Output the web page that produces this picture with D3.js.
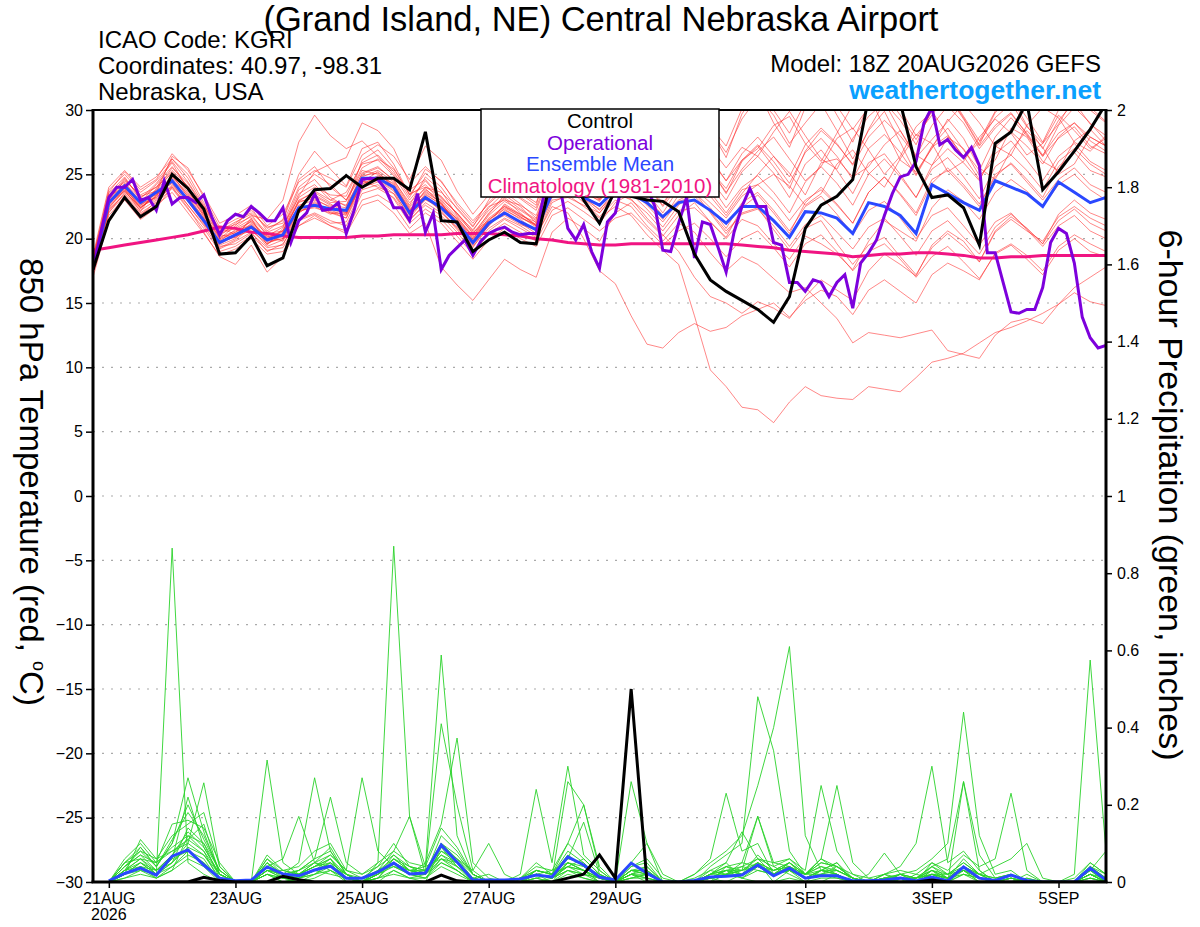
<!DOCTYPE html>
<html>
<head>
	<meta charset="utf-8">
	<title>GEFS meteogram - KGRI</title>
	<script src="https://d3js.org/d3.v7.min.js"></script>
	<style type="text/css">
		body { margin: 0; background: #fff; }
		svg { display: block; font-family: "Liberation Sans", Arial, Helvetica, sans-serif; }
		.member-t { fill: none; stroke: #ff2a2a; stroke-width: 0.8; stroke-opacity: 0.7; }
		.member-p { fill: none; stroke: #2ad22a; stroke-width: 0.9; }
		.thick { fill: none; stroke-width: 3; }
		.grid line { stroke: #aaa; stroke-width: 1.2; stroke-dasharray: 2,7; }
		.axis text { font-size: 16px; fill: #000; }
		.axis line { stroke: #000; stroke-width: 1.5; }
	</style>
</head>
<body>
<div id="chart"></div>
<script>
	// ---------- data (6-hourly from 18Z 20AUG2026, operational 3-hourly) ----------
	var tempTicks = [30, 25, 20, 15, 10, 5, 0, -5, -10, -15, -20, -25, -30];
	var precipTicks = [2, 1.8, 1.6, 1.4, 1.2, 1, 0.8, 0.6, 0.4, 0.2, 0];
	var tickDates = ["2026-08-21", "2026-08-23", "2026-08-25", "2026-08-27", "2026-08-29", "2026-09-01", "2026-09-03", "2026-09-05"];
	var dateLabels = ["21AUG", "23AUG", "25AUG", "27AUG", "29AUG", "1SEP", "3SEP", "5SEP"];
	var legendItems = ["Control", "Operational", "Ensemble Mean", "Climatology (1981-2010)"];

	var controlTemp = [17.6, 21.4, 23.2, 21.7, 22.5, 25.0, 23.9, 22.3, 18.8, 18.9, 20.2, 17.9, 18.5, 22.2, 23.8, 23.9,
		24.9, 24.0, 24.7, 24.7, 23.8, 28.3, 21.4, 21.3, 19.0, 19.9, 20.5, 19.7, 19.6, 25.0, 25.2, 23.0,
		21.2, 23.8, 23.3, 23.0, 22.9, 22.1, 18.8, 16.8, 15.9, 15.2, 14.5, 13.5, 15.5, 20.8, 22.6, 23.3,
		24.6, 31.0, 33.0, 30.6, 25.6, 23.2, 23.4, 22.4, 19.5, 27.4, 28.3, 30.6, 23.8, 25.2, 26.8, 28.5, 30.5];

	var meanTemp = [17.7, 22.8, 24.1, 22.8, 23.6, 24.5, 23.0, 21.4, 19.7, 20.3, 20.9, 19.9, 20.3, 22.4, 22.6, 22.3,
		22.2, 24.7, 24.7, 24.0, 22.0, 23.2, 22.4, 21.2, 19.7, 21.2, 22.0, 21.3, 20.7, 23.5, 23.8, 23.2,
		22.6, 23.8, 23.5, 22.8, 21.7, 22.8, 23.0, 22.2, 21.2, 22.5, 22.5, 21.4, 20.1, 22.1, 22.0, 21.6,
		20.4, 22.8, 22.5, 21.8, 20.4, 24.2, 23.5, 22.8, 22.2, 24.5, 24.0, 23.5, 22.5, 24.4, 23.6, 22.8, 23.2];

	var climoTemp = [19.1, 19.3, 19.5, 19.7, 19.9, 20.1, 20.3, 20.6, 20.9, 20.8, 20.5, 20.4, 20.2, 20.1, 20.1, 20.1,
		20.1, 20.2, 20.2, 20.3, 20.3, 20.3, 20.3, 20.4, 20.4, 20.4, 20.3, 20.2, 20.0, 19.9, 19.7, 19.6,
		19.5, 19.5, 19.6, 19.6, 19.6, 19.6, 19.6, 19.6, 19.6, 19.5, 19.4, 19.3, 19.1, 19.0, 18.9, 18.8,
		18.6, 18.7, 18.8, 18.8, 18.9, 18.9, 18.8, 18.7, 18.5, 18.5, 18.6, 18.6, 18.7, 18.7, 18.7, 18.7, 18.7];

	var operationalTemp = [17.6, 20.5, 23.2, 24.0, 24.0, 24.6, 23.0, 23.2, 22.2, 24.5, 22.7, 23.2, 23.2, 22.8, 23.4, 21.7,
		20.3, 21.4, 21.9, 21.7, 22.5, 22.0, 21.4, 21.4, 22.4, 19.7, 21.4, 22.0, 23.5, 22.2, 22.3, 22.8,
		20.4, 22.2, 24.6, 24.7, 24.6, 23.8, 22.4, 22.4, 21.4, 23.5, 20.5, 22.0, 17.6, 18.7, 19.3, 19.9,
		18.7, 19.8, 20.4, 20.7, 20.9, 20.5, 20.3, 20.4, 20.4, 23.5, 26.0, 24.0, 20.8, 19.9, 21.1, 19.0,
		17.7, 21.3, 22.0, 24.5, 26.0, 25.0, 24.0, 22.5, 19.1, 19.0, 21.2, 23.2, 18.5, 21.3, 21.1, 19.3,
		17.4, 20.5, 22.5, 23.9, 22.5, 22.5, 19.7, 19.5, 16.6, 16.6, 15.9, 16.8, 16.6, 15.5, 16.6, 17.2,
		14.6, 18.1, 18.9, 19.9, 21.8, 23.5, 24.8, 25.0, 26.0, 29.0, 30.2, 27.3, 27.7, 26.9, 26.3, 27.1,
		25.7, 18.9, 18.9, 16.6, 14.3, 14.2, 14.5, 14.5, 16.2, 19.7, 20.8, 20.4, 18.1, 13.9, 12.3, 11.5, 11.7];

	var tempMembers = [
		[18.2, 23.1, 24.5, 23.4, 24.0, 25.3, 24.1, 22.0, 20.3, 20.1, 21.6, 19.5, 20.8, 23.5, 24.2, 23.0, 23.6, 25.8, 26.1, 24.9, 23.0, 24.5, 23.1, 22.0, 20.4, 21.9, 23.4, 22.5, 21.2, 24.8, 25.5, 24.0, 23.1, 25.2, 26.0, 24.3, 22.5, 24.1, 25.0, 23.6, 22.0, 23.8, 24.2, 25.0, 24.1, 22.6, 23.5, 25.8, 26.9, 25.1, 24.0, 26.2, 28.1, 27.4, 25.2, 26.0, 27.9, 29.3, 28.2, 26.5, 27.4, 29.6, 28.4, 27.0, 27.8],
		[17.9, 22.5, 23.8, 22.1, 23.9, 26.2, 25.0, 22.8, 20.0, 21.0, 22.4, 20.6, 21.5, 25.0, 26.8, 25.4, 24.1, 27.0, 27.5, 25.8, 23.4, 25.1, 24.0, 22.3, 20.9, 23.0, 24.8, 23.5, 22.6, 26.8, 28.5, 27.0, 25.2, 28.1, 29.5, 27.6, 25.8, 28.9, 30.8, 28.5, 26.3, 29.7, 31.5, 29.0, 27.1, 30.2, 31.8, 29.6, 27.5, 30.5, 32.0, 30.1, 28.0, 29.6, 31.2, 29.4, 27.3, 29.8, 31.0, 28.8, 27.0, 29.2, 30.6, 28.9, 28.0],
		[17.5, 22.0, 23.6, 22.5, 23.1, 24.0, 22.6, 21.0, 19.2, 19.8, 20.5, 19.0, 19.6, 21.5, 22.0, 21.4, 21.0, 23.5, 23.9, 23.2, 21.5, 22.6, 21.8, 20.5, 19.0, 20.6, 21.5, 20.8, 20.1, 22.8, 23.4, 22.5, 21.6, 22.5, 21.8, 20.3, 19.1, 18.0, 14.0, 9.8, 8.5, 6.9, 6.7, 5.7, 7.3, 8.5, 7.8, 7.6, 7.5, 8.5, 8.3, 8.1, 9.2, 10.4, 10.7, 11.1, 11.9, 12.7, 13.1, 13.6, 14.2, 14.9, 16.2, 17.0, 17.8],
		[18.0, 23.5, 24.8, 23.0, 23.4, 24.8, 23.5, 21.9, 20.1, 20.6, 21.0, 20.2, 19.8, 22.0, 22.8, 22.1, 21.6, 24.0, 24.4, 23.5, 21.4, 22.8, 22.0, 20.9, 19.4, 20.8, 21.6, 21.0, 20.2, 22.5, 22.0, 20.0, 17.5, 16.5, 14.0, 11.8, 11.5, 12.7, 13.4, 12.8, 13.1, 14.0, 14.5, 15.0, 13.9, 15.2, 16.0, 15.5, 14.1, 16.0, 16.8, 15.9, 15.0, 17.2, 18.1, 17.5, 16.8, 18.9, 19.6, 18.7, 17.5, 19.4, 20.3, 19.6, 19.0],
		[17.6, 22.9, 24.2, 22.7, 23.2, 24.6, 22.9, 21.2, 19.5, 20.0, 21.2, 19.8, 20.0, 22.6, 23.0, 22.5, 21.9, 24.4, 24.6, 23.8, 21.9, 23.5, 22.6, 21.4, 20.0, 21.5, 22.3, 21.5, 20.6, 23.2, 23.9, 22.8, 21.7, 23.0, 22.5, 21.0, 19.8, 21.2, 20.5, 18.9, 17.5, 18.6, 18.0, 16.9, 15.8, 16.2, 15.0, 13.8, 11.9, 12.7, 12.5, 12.3, 12.6, 12.9, 11.3, 11.0, 10.7, 12.5, 13.5, 13.8, 13.4, 14.9, 15.8, 15.1, 14.8],
		[18.1, 22.7, 23.9, 22.4, 23.3, 24.9, 23.4, 21.8, 19.9, 20.5, 21.4, 20.0, 20.5, 22.9, 23.1, 22.4, 22.0, 24.6, 24.8, 24.1, 22.2, 23.7, 22.8, 21.1, 19.8, 21.4, 22.5, 21.7, 20.9, 23.8, 24.4, 23.1, 22.0, 23.4, 23.1, 21.6, 20.3, 19.0, 17.0, 15.5, 15.0, 14.2, 15.1, 14.6, 13.8, 15.5, 16.8, 16.0, 15.2, 17.5, 18.8, 18.0, 17.1, 19.5, 20.6, 19.8, 18.2, 20.5, 21.5, 20.6, 19.8, 21.7, 22.5, 21.6, 21.0],
		[18.5, 23.8, 25.0, 23.6, 24.5, 26.0, 24.4, 22.5, 20.8, 21.5, 22.0, 20.9, 21.2, 24.0, 25.0, 24.2, 23.0, 25.5, 26.2, 25.4, 23.5, 24.0, 23.6, 22.4, 21.0, 22.5, 23.0, 22.6, 21.8, 25.0, 26.5, 25.6, 24.3, 26.6, 28.0, 26.9, 25.1, 27.8, 29.5, 28.4, 26.7, 29.3, 31.0, 29.6, 27.4, 29.0, 30.5, 28.4, 26.2, 28.4, 29.9, 27.5, 25.0, 27.2, 28.6, 26.9, 25.3, 27.9, 29.4, 28.0, 26.4, 28.8, 30.2, 29.0, 27.6],
		[17.8, 22.6, 23.9, 22.9, 23.8, 25.5, 24.3, 22.4, 20.6, 21.3, 21.9, 20.2, 20.9, 23.8, 24.6, 23.2, 22.5, 26.1, 26.9, 25.5, 23.4, 24.2, 22.9, 21.5, 20.2, 22.0, 23.1, 22.0, 21.0, 24.3, 25.4, 24.2, 23.0, 25.6, 26.8, 25.3, 23.6, 26.0, 27.4, 26.1, 24.5, 26.1, 27.0, 28.8, 29.5, 27.4, 26.0, 28.2, 30.4, 31.2, 28.6, 26.1, 25.2, 27.0, 29.3, 27.8, 25.5, 24.6, 26.9, 28.4, 27.1, 25.0, 25.8, 27.9, 27.2],
		[17.4, 22.2, 23.5, 22.2, 23.0, 24.2, 23.0, 21.5, 19.4, 19.6, 20.4, 19.3, 19.5, 22.0, 22.9, 22.0, 21.6, 24.4, 25.2, 24.0, 22.1, 23.8, 23.0, 21.7, 20.1, 21.8, 22.9, 22.2, 21.4, 24.6, 25.7, 24.4, 23.5, 24.8, 25.9, 24.6, 23.2, 25.1, 26.6, 25.4, 23.5, 26.0, 27.2, 25.6, 23.9, 26.8, 28.4, 27.3, 25.8, 28.5, 30.6, 29.2, 27.3, 30.1, 31.4, 29.5, 27.6, 29.9, 31.2, 29.4, 27.5, 30.0, 31.5, 30.0, 29.0],
		[18.3, 23.3, 24.0, 22.4, 23.3, 25.0, 23.2, 21.6, 19.8, 20.7, 21.3, 20.0, 20.6, 23.0, 23.6, 22.8, 22.9, 25.3, 25.0, 24.1, 22.4, 23.6, 22.8, 21.0, 19.6, 21.0, 22.2, 21.6, 21.1, 24.0, 24.5, 23.8, 23.4, 25.8, 27.2, 26.0, 24.8, 27.0, 28.3, 27.1, 25.5, 27.1, 26.4, 28.3, 29.9, 28.0, 26.2, 25.4, 27.8, 29.5, 30.6, 28.4, 26.3, 27.7, 29.1, 30.5, 29.0, 27.2, 26.5, 28.8, 30.2, 29.4, 27.5, 26.8, 28.0],
		[17.2, 21.8, 23.2, 21.9, 22.6, 23.6, 22.0, 20.4, 18.7, 19.2, 20.0, 18.8, 19.0, 21.0, 21.6, 21.0, 20.6, 23.0, 23.4, 22.6, 20.8, 22.0, 21.2, 19.8, 18.4, 19.9, 20.8, 20.0, 19.4, 21.8, 22.4, 21.5, 20.6, 21.6, 22.0, 20.8, 19.5, 20.6, 21.2, 20.0, 18.6, 20.0, 20.6, 19.3, 17.8, 19.6, 20.3, 19.0, 17.5, 19.0, 19.6, 18.4, 17.0, 18.6, 19.4, 18.2, 16.9, 18.8, 19.5, 18.4, 17.2, 19.1, 20.0, 19.0, 18.6],
		[18.6, 23.0, 24.3, 23.1, 24.3, 25.9, 23.8, 21.7, 20.2, 21.2, 22.2, 20.8, 21.4, 24.6, 25.6, 24.0, 23.0, 25.0, 25.5, 24.6, 22.6, 24.8, 23.7, 21.8, 20.5, 21.4, 22.6, 21.8, 21.3, 23.6, 24.2, 23.5, 23.0, 24.5, 24.0, 22.9, 21.5, 23.4, 23.9, 22.8, 21.6, 23.3, 24.2, 23.0, 21.4, 23.0, 23.8, 22.6, 21.2, 23.6, 24.8, 23.5, 22.0, 24.6, 25.3, 24.0, 22.5, 25.0, 25.8, 24.4, 23.0, 24.6, 25.5, 24.2, 23.6],
		[17.7, 22.7, 24.0, 22.6, 23.5, 24.3, 22.6, 21.1, 19.6, 20.2, 20.6, 19.6, 20.2, 22.2, 22.4, 22.0, 21.9, 24.5, 24.0, 23.5, 21.8, 23.0, 22.5, 21.6, 20.3, 21.3, 22.0, 21.2, 20.4, 23.0, 23.2, 22.6, 22.0, 23.6, 23.0, 22.0, 20.6, 22.2, 22.4, 21.3, 20.0, 21.5, 21.0, 19.6, 18.4, 20.2, 19.6, 18.8, 17.6, 19.8, 21.4, 20.6, 19.8, 22.4, 23.8, 22.9, 21.5, 23.6, 24.6, 23.7, 22.5, 24.2, 25.0, 23.8, 23.0],
		[18.1, 23.4, 24.4, 22.8, 24.2, 25.6, 24.0, 22.3, 20.5, 20.9, 21.8, 21.5, 23.0, 27.5, 29.6, 28.0, 27.0, 27.6, 26.4, 25.0, 23.8, 24.6, 23.2, 22.0, 20.6, 22.4, 23.6, 22.7, 21.6, 24.1, 24.9, 23.9, 23.1, 24.4, 25.2, 24.0, 22.6, 24.6, 25.8, 24.6, 23.0, 25.2, 26.4, 25.1, 23.2, 25.8, 26.9, 25.3, 23.5, 25.9, 26.6, 25.0, 23.2, 25.4, 26.3, 24.8, 23.1, 25.6, 26.5, 25.3, 23.8, 26.0, 27.0, 25.8, 25.0],
		[17.3, 22.4, 23.7, 22.3, 23.6, 26.4, 25.5, 23.2, 20.9, 20.3, 21.4, 20.1, 20.6, 23.3, 25.2, 25.8, 26.3, 29.0, 28.4, 27.0, 24.3, 25.6, 24.4, 22.8, 21.4, 22.7, 23.8, 23.1, 22.2, 25.3, 26.2, 25.0, 24.0, 26.3, 27.3, 26.2, 24.7, 26.4, 27.5, 26.3, 24.5, 26.6, 27.9, 26.4, 24.8, 27.3, 28.6, 27.4, 25.7, 27.9, 29.2, 28.0, 26.4, 28.8, 30.3, 29.0, 27.0, 28.6, 29.7, 28.2, 26.5, 28.2, 29.0, 27.6, 26.8],
		[17.0, 21.5, 23.0, 21.5, 22.4, 24.0, 22.4, 20.5, 18.6, 18.0, 19.5, 17.4, 18.6, 21.0, 21.8, 21.0, 20.4, 22.6, 23.0, 22.0, 20.4, 21.2, 17.8, 16.4, 15.2, 16.8, 18.4, 17.6, 17.0, 20.5, 21.6, 20.8, 19.8, 22.0, 22.8, 21.4, 20.2, 21.8, 22.8, 21.3, 20.1, 22.4, 23.4, 22.0, 20.4, 22.8, 24.0, 22.7, 21.2, 23.6, 24.8, 23.4, 21.8, 24.3, 25.5, 24.2, 22.7, 24.8, 25.9, 24.6, 23.2, 25.6, 26.7, 25.3, 24.8],
		[18.4, 23.6, 25.2, 23.8, 24.6, 26.6, 25.3, 23.4, 21.2, 21.8, 22.6, 21.0, 21.9, 24.4, 25.3, 24.7, 24.0, 26.5, 27.3, 26.4, 24.6, 27.2, 26.1, 23.7, 21.9, 23.4, 24.5, 23.6, 22.8, 25.9, 26.9, 25.4, 24.4, 26.9, 27.6, 26.0, 24.1, 26.2, 27.0, 25.4, 23.6, 25.4, 26.8, 27.9, 26.2, 24.5, 25.6, 27.8, 28.6, 26.9, 25.0, 26.4, 28.7, 29.9, 28.1, 26.3, 27.5, 29.4, 30.5, 28.7, 27.4, 28.9, 31.0, 30.2, 29.1],
		[17.6, 22.3, 23.4, 22.0, 22.8, 23.9, 22.3, 20.8, 19.0, 19.4, 20.2, 19.1, 19.3, 21.4, 21.9, 21.2, 21.3, 23.8, 24.2, 23.1, 21.2, 22.3, 21.5, 20.2, 18.8, 20.4, 21.2, 20.5, 19.8, 22.2, 22.9, 22.1, 21.2, 22.8, 23.5, 22.3, 20.9, 22.6, 23.6, 22.4, 20.8, 22.8, 23.6, 22.2, 20.6, 22.5, 23.3, 21.9, 20.3, 22.2, 22.9, 21.6, 20.0, 21.8, 22.4, 21.0, 19.5, 21.3, 22.0, 20.7, 19.4, 21.0, 21.8, 20.6, 20.0],
		[18.0, 23.2, 24.7, 23.2, 24.0, 25.1, 23.6, 22.1, 20.4, 20.8, 21.5, 20.4, 20.6, 22.8, 23.3, 22.6, 22.4, 25.1, 25.6, 24.5, 22.8, 23.9, 22.7, 21.3, 19.9, 21.6, 22.5, 21.9, 21.0, 24.0, 24.8, 23.7, 22.9, 24.6, 25.4, 24.1, 22.8, 24.3, 25.3, 24.2, 22.4, 24.0, 24.9, 23.6, 22.0, 24.4, 25.6, 24.3, 22.6, 25.0, 26.2, 24.8, 23.2, 25.7, 27.0, 25.9, 24.5, 27.1, 28.3, 27.2, 25.8, 27.9, 29.0, 27.9, 27.2],
		[17.8, 22.1, 23.3, 21.8, 22.9, 24.1, 22.9, 21.3, 19.3, 19.9, 20.9, 19.6, 20.3, 22.5, 23.4, 22.7, 22.0, 24.2, 24.9, 24.3, 22.3, 23.3, 22.1, 20.7, 19.3, 21.1, 22.7, 21.9, 21.1, 23.9, 24.6, 23.3, 22.2, 23.8, 24.6, 23.2, 21.8, 23.0, 23.6, 22.0, 20.4, 22.0, 22.4, 20.7, 19.1, 20.8, 21.4, 19.6, 18.0, 19.5, 20.1, 18.6, 17.2, 19.3, 20.4, 19.4, 18.2, 20.6, 21.7, 20.8, 19.6, 21.9, 23.0, 22.0, 21.5],
		[18.2, 23.0, 24.6, 23.3, 23.7, 25.2, 23.9, 21.9, 20.0, 20.5, 21.1, 19.9, 20.4, 22.9, 23.7, 23.0, 22.6, 24.8, 25.3, 24.4, 22.5, 24.0, 23.3, 21.9, 20.7, 22.2, 23.2, 22.3, 21.5, 25.4, 27.0, 25.9, 24.6, 27.4, 28.8, 27.5, 26.0, 28.3, 29.8, 28.7, 27.2, 30.1, 31.6, 30.0, 28.2, 30.6, 31.9, 30.3, 28.5, 30.2, 31.3, 29.6, 27.7, 29.9, 31.1, 29.3, 27.2, 28.8, 29.8, 28.1, 26.4, 27.8, 28.7, 27.2, 26.6],
		[17.5, 22.8, 23.7, 22.4, 23.4, 24.7, 23.3, 21.6, 19.7, 20.4, 21.0, 19.7, 20.0, 22.1, 22.5, 21.9, 22.3, 24.9, 25.1, 24.2, 22.2, 23.4, 22.7, 21.5, 20.0, 21.3, 21.8, 21.1, 20.7, 23.4, 24.0, 23.1, 22.3, 23.4, 23.8, 22.6, 21.3, 22.9, 23.3, 22.1, 20.6, 21.9, 22.3, 21.0, 19.4, 21.1, 21.8, 20.5, 19.2, 20.9, 21.6, 20.2, 18.7, 20.6, 21.4, 20.1, 18.8, 20.9, 21.9, 20.8, 19.6, 21.4, 22.3, 21.2, 20.6],
		[18.7, 24.0, 25.3, 24.0, 24.8, 26.2, 24.7, 22.6, 20.7, 21.1, 21.7, 20.5, 21.0, 23.2, 24.0, 23.4, 23.3, 25.9, 26.5, 25.2, 23.2, 25.4, 24.5, 22.6, 21.2, 22.8, 24.0, 23.2, 22.4, 25.6, 26.0, 24.8, 23.8, 25.3, 26.4, 25.0, 23.5, 25.5, 26.6, 25.3, 23.9, 26.1, 27.3, 26.0, 24.3, 26.7, 27.8, 26.4, 24.6, 27.0, 28.1, 26.7, 24.9, 27.1, 28.0, 26.4, 24.6, 26.6, 27.6, 26.1, 24.5, 26.4, 27.4, 26.0, 25.3],
		[17.4, 22.4, 23.8, 22.6, 23.2, 24.4, 23.1, 21.4, 19.8, 20.1, 20.8, 19.4, 19.9, 22.3, 22.7, 22.2, 21.8, 24.3, 24.5, 23.7, 21.6, 23.1, 22.2, 20.8, 19.5, 21.0, 22.4, 21.7, 21.0, 23.7, 24.3, 23.4, 22.5, 24.2, 24.8, 23.6, 22.0, 23.9, 24.6, 23.3, 21.8, 23.5, 25.0, 26.4, 25.1, 23.4, 25.9, 26.2, 24.8, 25.6, 27.3, 28.4, 26.5, 25.7, 27.9, 27.0, 24.9, 26.1, 28.6, 27.9, 26.0, 25.3, 27.6, 28.5, 27.2]
	];

	// 6-hour precipitation (inches), periods ending 00Z 21AUG .. 18Z 05SEP
	var controlPrecip = [0, 0, 0, 0, 0, 0, .012, .004, 0, 0, 0, .015, .006, 0, 0, 0,
		0, 0, 0, 0, 0, .018, .003, 0, 0, 0, 0, 0, 0, .01, .02, .07,
		.01, .5, 0, 0, 0, 0, 0, 0, 0, 0, 0, 0, 0, 0, 0, 0,
		0, 0, 0, 0, .005, 0, 0, 0, 0, 0, 0, 0, 0, 0, 0, 0];

	var meanPrecip = [.003, .022, .036, .018, .067, .083, .044, .010, .003, .005, .039, .021, .016, .031, .041, .010,
		.010, .026, .049, .021, .023, .096, .052, .005, .005, .005, .008, .018, .013, .065, .044, .013,
		.005, .049, .023, 0, 0, .004, .013, .015, .018, .044, .016, .036, .010, .016, .016, .003,
		.003, .005, .010, .003, .013, .003, .039, .010, .004, .018, .004, 0, 0, 0, .036, .005];

	var precipMembers = [
		[0, .03, .06, .02, .865, .05, .02, 0, 0, 0, .04, .01, 0, .02, .05, 0, 0, 0, .03, .01, 0, .09, .04, 0, 0, 0, 0, .02, 0, .05, .03, 0, 0, .02, 0, 0, 0, 0, .01, 0, .02, .05, 0, .01, 0, 0, .02, 0, 0, 0, 0, 0, .02, 0, .03, 0, 0, 0, 0, 0, 0, 0, .02, 0],
		[0, .02, .04, .01, .03, .12, .08, 0, 0, 0, .02, 0, .01, .03, .02, .01, 0, .05, .87, .17, .02, .1, .05, 0, 0, 0, 0, 0, .01, .03, .01, 0, 0, 0, 0, 0, 0, 0, 0, .02, .01, 0, 0, .03, 0, .01, .01, 0, 0, 0, .01, 0, 0, 0, .02, 0, 0, 0, 0, 0, 0, 0, 0, 0],
		[0, .05, .08, .04, .1, .27, .13, .02, 0, 0, .316, .05, .02, .04, .06, 0, 0, .02, .05, .03, .04, .588, .12, .02, 0, 0, 0, .03, .02, .08, .05, .01, 0, .01, .02, 0, 0, 0, 0, .04, .03, .17, .04, .02, 0, .03, .05, 0, 0, .02, 0, 0, .04, .01, .06, .02, 0, .01, 0, 0, 0, 0, .04, .01],
		[0, .02, .11, .06, .08, .1, .257, .04, 0, 0, .03, .02, .05, .27, .08, .02, 0, .01, .06, .04, .03, .41, .2, .03, 0, 0, .01, .05, .02, .04, .06, .02, 0, .05, .02, 0, 0, 0, .02, .05, .01, .03, .02, .05, .01, .03, .02, 0, 0, .01, 0, .01, .02, 0, .26, .03, 0, 0, .01, 0, 0, 0, .03, 0],
		[0, .04, .07, .03, .06, .22, .09, .02, 0, 0, .06, .03, .02, .05, .07, .03, .27, .08, .04, .02, .05, .15, .373, .05, .01, 0, 0, .02, .01, .26, .2, .04, 0, .03, .04, 0, 0, 0, .01, .03, .02, .05, .03, .04, .02, .06, .03, .01, 0, 0, .02, 0, .05, .02, .04, .01, 0, .02, 0, 0, 0, 0, .05, .02],
		[0, .03, .05, .02, .05, .14, .1, .01, 0, 0, .05, .01, .03, .06, .22, .05, .02, .04, .1, .04, .02, .08, .06, .01, 0, 0, .02, .24, .05, .3, .07, .03, 0, .04, .06, .01, 0, 0, .03, .02, .05, .04, .02, .03, .01, .02, .04, .02, .01, 0, 0, .02, .01, .01, .03, 0, 0, 0, .02, 0, 0, 0, .01, 0],
		[0, .01, .03, .01, .04, .08, .06, 0, 0, 0, .02, 0, .01, .02, .04, .01, 0, .03, .08, .17, .04, .06, .03, 0, 0, 0, 0, .01, 0, .03, .02, .01, 0, .02, .01, 0, 0, .02, .05, .08, .12, .25, .4, .61, .12, .03, .02, 0, 0, 0, .01, 0, .03, 0, .02, .01, 0, 0, 0, 0, 0, 0, .01, 0],
		[0, .02, .04, .02, .05, .09, .07, .01, 0, 0, .04, .06, .17, .05, .03, .01, 0, .02, .07, .03, .02, .12, .08, .02, 0, 0, 0, .02, .01, .05, .03, 0, 0, .03, .02, 0, 0, 0, .04, .07, .1, .48, .34, .08, .02, .05, .04, .01, 0, .01, 0, 0, .02, .01, .04, .02, 0, .01, 0, 0, 0, 0, .03, 0],
		[0, .03, .06, .03, .07, .11, .08, .02, 0, 0, .03, .02, .01, .03, .05, .02, 0, .01, .05, .02, .03, .07, .04, .01, 0, 0, .01, .03, .02, .06, .155, .02, 0, .26, .1, 0, 0, 0, .01, .02, .03, .05, .02, .04, .01, .03, .02, 0, 0, .02, .04, .1, .3, .05, .08, .03, 0, .01, 0, 0, 0, 0, .02, .01],
		[0, .02, .05, .02, .06, .08, .05, .01, 0, 0, .05, .02, .02, .04, .06, .01, .01, .02, .06, .03, .02, .1, .06, .03, .1, .02, 0, .02, .01, .04, .02, .01, 0, .02, .03, 0, 0, 0, .02, .04, .02, .07, .03, .05, .02, .06, .04, .01, 0, 0, .02, .03, .06, .1, .44, .12, .02, .03, 0, 0, 0, 0, .02, 0],
		[0, .04, .07, .05, .09, .12, .1, .03, 0, 0, .03, .01, .02, .04, .05, .02, 0, .03, .04, .02, .01, .05, .03, 0, 0, 0, 0, .01, .02, .04, .03, .01, 0, .01, .02, 0, 0, 0, .01, .03, .04, .06, .05, .06, .03, .25, .08, .02, 0, .01, .01, 0, .03, .02, .05, .02, .01, .02, 0, 0, 0, .02, .575, .08],
		[0, .05, .09, .04, .11, .18, .12, .03, 0, 0, .07, .03, .04, .08, .1, .03, .02, .05, .08, .05, .04, .14, .09, .02, 0, 0, .01, .04, .03, .1, .06, .02, 0, .04, .05, 0, 0, 0, .02, .03, .01, .04, .02, .03, .02, .06, .25, .05, .01, .02, .03, .02, .05, .03, .07, .04, .06, .23, .03, 0, 0, 0, .04, .01],
		[0, .01, .02, .01, .03, .06, .04, 0, 0, 0, .02, .01, 0, .01, .03, 0, 0, .01, .02, .01, .01, .04, .02, 0, 0, 0, 0, .01, 0, .02, .01, 0, 0, .01, .01, 0, 0, .02, .06, .23, .08, .1, .02, .03, .01, .02, .01, 0, 0, 0, .01, 0, .02, .01, .03, .02, .04, .06, .1, .01, 0, 0, .02, 0],
		[0, .02, .03, .02, .04, .07, .05, .01, 0, 0, .03, .01, .02, .03, .04, .01, 0, .02, .05, .02, .02, .06, .04, .01, 0, 0, 0, .02, .01, .03, .02, 0, 0, .02, .01, 0, 0, .01, .03, .05, .13, .06, .02, .04, .01, .02, .02, 0, .02, .075, .02, .01, .03, .01, .04, .01, 0, .01, 0, 0, 0, 0, .03, .08],
		[0, .03, .04, .03, .05, .1, .07, .02, 0, 0, .04, .02, .03, .05, .04, .02, 0, .02, .04, .03, .02, .08, .05, .01, 0, 0, .01, .02, .01, .05, .03, .01, 0, .05, .1, .02, 0, 0, .01, .02, .03, .04, .03, .05, .02, .04, .03, .01, 0, .01, .02, .01, .04, .06, .26, .07, .01, .02, 0, 0, 0, .01, .05, .02],
		[0, .02, .05, .03, .07, .13, .09, .02, 0, 0, .02, .01, .01, .02, .03, .01, 0, .01, .03, .01, .02, .05, .03, 0, 0, 0, 0, .03, .02, .1, .2, .03, 0, .03, .02, 0, 0, 0, .02, .04, .05, .17, .05, .04, .02, .03, .05, .01, 0, .01, .02, 0, .02, .01, .02, .01, 0, 0, 0, 0, 0, 0, .02, 0],
		[0, .06, .1, .05, .15, .16, .14, .05, 0, 0, .05, .02, .03, .06, .08, .02, .01, .04, .07, .04, .03, .1, .07, .02, 0, 0, .01, .03, .02, .07, .04, .01, 0, .03, .03, 0, 0, 0, .01, .03, .02, .05, .03, .04, .01, .03, .03, .01, 0, .01, .01, .01, .03, .01, .04, .02, 0, .01, 0, 0, 0, 0, .03, .01],
		[0, .04, .08, .06, .12, .15, .18, .04, 0, 0, .03, .03, .02, .04, .07, .03, .01, .03, .05, .03, .02, .07, .05, .01, .02, 0, 0, .02, .03, .05, .04, .02, 0, .02, .04, 0, 0, 0, .02, .02, .04, .03, .02, .05, .02, .04, .02, 0, 0, 0, .02, .01, .02, .02, .03, .01, 0, 0, .01, 0, 0, 0, .02, 0],
		[0, .03, .09, .04, .1, .2, .11, .03, 0, 0, .06, .02, .01, .03, .06, .02, 0, .02, .05, .02, .01, .06, .05, .01, 0, 0, .01, .02, .01, .04, .03, .01, 0, .02, .02, 0, 0, 0, .01, .02, .02, .04, .02, .03, .02, .02, .03, .01, 0, .01, .01, 0, .02, .01, .03, .01, 0, 0, 0, 0, 0, 0, .01, 0],
		[0, .05, .06, .05, .08, .11, .15, .02, 0, 0, .04, .02, .02, .05, .09, .02, 0, .03, .06, .03, .03, .09, .06, .02, 0, 0, 0, .03, .02, .06, .05, .01, 0, .03, .03, 0, 0, 0, .02, .03, .03, .06, .04, .06, .02, .05, .04, .01, 0, .02, .01, .01, .04, .02, .05, .02, .01, .02, 0, 0, 0, 0, .04, .02]
	];

	// ---------- layout ----------
	var width = 1200, height = 927;
	var plot = {left: 93, right: 1106, top: 110, bottom: 882};
	var HOUR = 3600 * 1000;
	var start = Date.UTC(2026, 7, 20, 18);
	var end = start + 64 * 6 * HOUR;

	var x = d3.scaleUtc().domain([start, end]).range([plot.left, plot.right]);
	var yT = d3.scaleLinear().domain([-30, 30]).range([plot.bottom, plot.top]);
	var yP = d3.scaleLinear().domain([0, 2]).range([plot.bottom, plot.top]);

	var svg = d3.select("#chart").append("svg")
		.attr("width", width)
		.attr("height", height);

	svg.append("clipPath").attr("id", "plot-clip")
		.append("rect")
		.attr("x", plot.left).attr("y", plot.top)
		.attr("width", plot.right - plot.left)
		.attr("height", plot.bottom - plot.top);

	// dotted grid on temperature ticks
	svg.append("g").attr("class", "grid")
		.selectAll("line")
		.data(tempTicks.filter(function(d){ return d > -30 && d < 30; }))
		.enter().append("line")
		.attr("x1", plot.left).attr("x2", plot.right)
		.attr("y1", function(d){ return yT(d); })
		.attr("y2", function(d){ return yT(d); });

	var lines = svg.append("g").attr("clip-path", "url(#plot-clip)");

	var tempLine = d3.line()
		.x(function(d, i){ return x(start + i * 6 * HOUR); })
		.y(function(d){ return yT(d); });

	var opLine = d3.line()
		.x(function(d, i){ return x(start + i * 3 * HOUR); })
		.y(function(d){ return yT(d); });

	var precipLine = d3.line()
		.x(function(d, i){ return x(start + (i + 1) * 6 * HOUR); })
		.y(function(d){ return yP(d); });

	lines.selectAll(".member-t")
		.data(tempMembers)
		.enter().append("path")
		.attr("class", "member-t")
		.attr("d", tempLine);

	lines.selectAll(".member-p")
		.data(precipMembers)
		.enter().append("path")
		.attr("class", "member-p")
		.attr("d", precipLine);

	lines.append("path").attr("class", "thick")
		.attr("stroke", "#f01482")
		.attr("d", tempLine(climoTemp));

	lines.append("path").attr("class", "thick")
		.attr("stroke", "#2a48ff")
		.attr("d", precipLine(meanPrecip));

	lines.append("path").attr("class", "thick")
		.attr("stroke", "#000")
		.attr("d", precipLine(controlPrecip));

	lines.append("path").attr("class", "thick")
		.attr("stroke", "#2a48ff")
		.attr("d", tempLine(meanTemp));

	lines.append("path").attr("class", "thick")
		.attr("stroke", "#7d00dc")
		.attr("d", opLine(operationalTemp));

	lines.append("path").attr("class", "thick")
		.attr("stroke", "#000")
		.attr("d", tempLine(controlTemp));

	// ---------- axes ----------
	var leftAxis = svg.append("g").attr("class", "axis")
		.attr("transform", "translate(" + plot.left + ",0)")
		.call(d3.axisLeft(yT).tickValues(tempTicks).tickSize(7).tickPadding(3).tickFormat(d3.format("d")));

	var rightAxis = svg.append("g").attr("class", "axis")
		.attr("transform", "translate(" + plot.right + ",0)")
		.call(d3.axisRight(yP).tickValues(precipTicks).tickSize(6).tickPadding(5).tickFormat(d3.format("~g")));

	var bottomAxis = svg.append("g").attr("class", "axis")
		.attr("transform", "translate(0," + plot.bottom + ")")
		.call(d3.axisBottom(x)
			.tickValues(tickDates.map(function(d){ return new Date(d + "T00:00:00Z"); }))
			.tickSize(6).tickPadding(5)
			.tickFormat(function(d, i){ return dateLabels[i]; }));

	svg.selectAll(".axis .domain").remove();
	bottomAxis.selectAll("text").attr("font-size", 16);

	bottomAxis.append("text")
		.attr("x", x(new Date(tickDates[0] + "T00:00:00Z")))
		.attr("y", 38)
		.attr("text-anchor", "middle")
		.attr("font-size", 16)
		.attr("fill", "#000")
		.text("2026");

	// frame
	var frame = svg.append("g").attr("stroke", "#000").attr("fill", "none");
	frame.append("line").attr("x1", plot.left).attr("x2", plot.right).attr("y1", plot.top).attr("y2", plot.top).attr("stroke-width", 2);
	frame.append("line").attr("x1", plot.left - 1.5).attr("x2", plot.right + 1.5).attr("y1", plot.bottom).attr("y2", plot.bottom).attr("stroke-width", 3);
	frame.append("line").attr("x1", plot.left).attr("x2", plot.left).attr("y1", plot.top - 1).attr("y2", plot.bottom).attr("stroke-width", 3);
	frame.append("line").attr("x1", plot.right).attr("x2", plot.right).attr("y1", plot.top - 1).attr("y2", plot.bottom).attr("stroke-width", 3);

	// ---------- legend ----------
	var legendColors = ["#000", "#7d00dc", "#2a48ff", "#f01482"];
	var legend = svg.append("g");
	legend.append("rect")
		.attr("x", 481).attr("y", 109)
		.attr("width", 238).attr("height", 88)
		.attr("fill", "#fff").attr("stroke", "#000").attr("stroke-width", 1.5);
	legend.selectAll("text")
		.data(legendItems)
		.enter().append("text")
		.attr("x", 600)
		.attr("y", function(d, i){ return 128 + i * 21.7; })
		.attr("text-anchor", "middle")
		.attr("font-size", 20.5)
		.attr("fill", function(d, i){ return legendColors[i]; })
		.text(function(d){ return d; });

	// ---------- titles ----------
	svg.append("text")
		.attr("x", 601).attr("y", 31)
		.attr("text-anchor", "middle")
		.attr("font-size", 34.5)
		.text("(Grand Island, NE) Central Nebraska Airport");

	var info = ["ICAO Code: KGRI", "Coordinates: 40.97, -98.31", "Nebraska, USA"];
	svg.selectAll(".info")
		.data(info)
		.enter().append("text")
		.attr("class", "info")
		.attr("x", 98)
		.attr("y", function(d, i){ return 48 + i * 26; })
		.attr("font-size", 24)
		.text(function(d){ return d; });

	svg.append("text")
		.attr("x", 1101).attr("y", 72)
		.attr("text-anchor", "end")
		.attr("font-size", 24)
		.text("Model: 18Z 20AUG2026 GEFS");

	svg.append("text")
		.attr("x", 1101).attr("y", 99)
		.attr("text-anchor", "end")
		.attr("font-size", 26.5)
		.attr("font-weight", "bold")
		.attr("fill", "#0aa0ff")
		.text("weathertogether.net");

	var leftTitle = svg.append("text")
		.attr("transform", "translate(20,482) rotate(90)")
		.attr("text-anchor", "middle")
		.attr("font-size", 33);
	leftTitle.append("tspan").text("850 hPa Temperature (red, ");
	leftTitle.append("tspan").attr("font-size", 18).attr("dy", -13).text("o");
	leftTitle.append("tspan").attr("dy", 13).text("C)");

	svg.append("text")
		.attr("transform", "translate(1159,495) rotate(90)")
		.attr("text-anchor", "middle")
		.attr("font-size", 34)
		.text("6-hour Precipitation (green, inches)");
</script>
</body>
</html>
